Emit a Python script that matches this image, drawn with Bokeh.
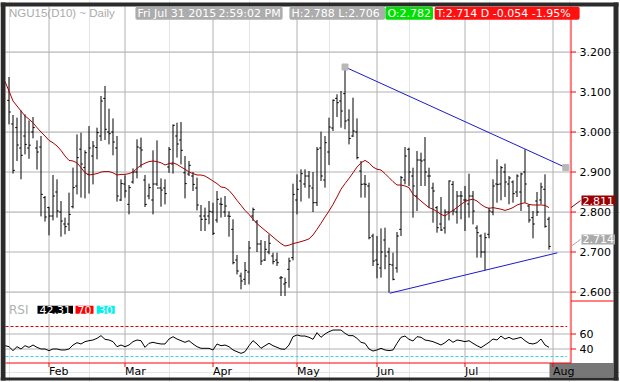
from bokeh.plotting import figure
from bokeh.models import Range1d, Label
from bokeh.core.properties import value
from bokeh.embed import file_html
from bokeh.resources import INLINE

# ---------------- data (NGU15 daily, Jan 16 - Jul 31 2015, trading-day index) -------------
highs = [3.1375, 3.0425, 3.036, 3.054, 3.044, 3.029, 3.0375, 2.979, 2.990, 2.840,
         2.8133, 2.8925, 2.8817, 2.8275, 2.786, 2.8483, 2.911, 2.994, 2.9983, 2.9542,
         3.015, 2.9775, 3.0108, 3.090, 3.115, 3.0583, 3.034, 2.990, 2.8817, 2.8917,
         2.8675, 2.909, 2.9817, 2.986, 2.8925, 2.871, 2.9542, 2.979, 2.884, 2.8817,
         2.9625, 3.019, 3.0233, 3.025, 2.940, 2.9275, 2.900, 2.886,
         2.8175, 2.811, 2.8275, 2.8233, 2.8525, 2.836, 2.840, 2.8017, 2.7817, 2.6925,
         2.6483, 2.675, 2.7275, 2.811, 2.780, 2.730, 2.7275, 2.744, 2.6983, 2.6983,
         2.640, 2.6358, 2.6858, 2.8708, 2.894, 2.9067, 2.9067, 2.9025, 2.900, 2.9625,
         3.0008, 2.990, 3.0358, 3.0817, 3.0942, 3.1025, 3.1625, 3.0567, 3.0858, 3.034,
         2.9275, 2.8925, 2.8733, 2.7458, 2.740, 2.759, 2.7608, 2.7108, 2.6983, 2.750,
         2.890, 2.9625, 2.9608, 2.9108, 2.9525, 2.9483, 2.9875, 2.9108, 2.8733, 2.815,
         2.8375, 2.8067, 2.879, 2.8775, 2.8525, 2.8525, 2.865, 2.8958, 2.8525, 2.7667,
         2.7442, 2.7483, 2.8108, 2.8817, 2.9317, 2.915, 2.9208, 2.890, 2.879, 2.8942,
         2.8983, 2.9567, 2.819, 2.8025, 2.850, 2.8733, 2.8942, 2.788]
lows = [3.019, 2.896, 2.9275, 2.8817, 2.944, 2.933, 2.984, 2.906, 2.789, 2.776,
        2.7417, 2.779, 2.786, 2.7383, 2.744, 2.7525, 2.809, 2.844, 2.836, 2.834,
        2.846, 2.869, 2.9317, 2.9775, 2.980, 2.969, 2.9417, 2.826, 2.8275, 2.836,
        2.794, 2.871, 2.884, 2.911, 2.8125, 2.8317, 2.794, 2.865, 2.8133, 2.819,
        2.898, 2.896, 2.936, 2.919, 2.834, 2.890, 2.8525, 2.804,
        2.7525, 2.7525, 2.7692, 2.7425, 2.7733, 2.786, 2.7875, 2.7383, 2.6692, 2.644,
        2.6067, 2.6175, 2.619, 2.7775, 2.700, 2.6675, 2.6775, 2.6942, 2.6692, 2.665,
        2.590, 2.590, 2.6108, 2.679, 2.794, 2.826, 2.8608, 2.834, 2.800, 2.815,
        2.8775, 2.8608, 2.9175, 3.0025, 3.0375, 3.0108, 3.0067, 2.969, 2.9875, 2.9317,
        2.836, 2.8358, 2.7317, 2.665, 2.6342, 2.636, 2.6567, 2.5983, 2.6292, 2.6483,
        2.740, 2.8692, 2.865, 2.7858, 2.8025, 2.865, 2.865, 2.8108, 2.7733, 2.7483,
        2.7525, 2.746, 2.779, 2.7917, 2.7708, 2.7817, 2.7525, 2.7858, 2.769, 2.6858,
        2.6858, 2.6542, 2.7342, 2.7917, 2.8233, 2.8292, 2.8375, 2.8192, 2.8233, 2.8375,
        2.8025, 2.8233, 2.7733, 2.7342, 2.790, 2.8192, 2.7608, 2.706]
opens = [3.079, 3.020, 3.011, 2.960, 2.990, 2.960, 3.000, 2.960, 2.9625, 2.836,
         2.811, 2.790, 2.850, 2.800, 2.770, 2.770, 2.8133, 2.865, 2.957, 2.911,
         2.894, 2.940, 2.961, 2.990, 3.084, 3.000, 3.000, 2.960, 2.830, 2.870,
         2.8192, 2.875, 2.900, 2.960, 2.880, 2.840, 2.830, 2.870, 2.860, 2.860,
         2.9125, 2.920, 2.990, 2.980, 2.898, 2.895, 2.890, 2.860,
         2.790, 2.790, 2.790, 2.800, 2.780, 2.820, 2.800, 2.790, 2.7567, 2.680,
         2.640, 2.6317, 2.650, 2.790, 2.775, 2.720, 2.680, 2.700, 2.690, 2.680,
         2.635, 2.620, 2.6567, 2.6858, 2.830, 2.8775, 2.870, 2.890, 2.860, 2.8233,
         2.960, 2.880, 2.950, 3.010, 3.084, 3.0775, 3.0958, 3.030, 2.990, 3.000,
         2.9025, 2.870, 2.865, 2.740, 2.680, 2.660, 2.730, 2.700, 2.6675, 2.660,
         2.7567, 2.880, 2.9567, 2.890, 2.840, 2.930, 2.930, 2.890, 2.860, 2.8108,
         2.770, 2.760, 2.800, 2.869, 2.800, 2.840, 2.830, 2.820, 2.840, 2.760,
         2.740, 2.700, 2.7442, 2.800, 2.870, 2.870, 2.900, 2.870, 2.875, 2.850,
         2.850, 2.900, 2.815, 2.7858, 2.8275, 2.830, 2.8567, 2.782]
closes = [3.050, 2.904, 2.9675, 2.9417, 2.969, 2.967, 3.011, 2.950, 2.844, 2.7875,
          2.790, 2.840, 2.8025, 2.7775, 2.7633, 2.794, 2.861, 2.936, 2.920, 2.9483,
          2.960, 2.965, 2.9983, 3.0775, 3.0067, 2.9958, 2.975, 2.840, 2.871, 2.8525,
          2.861, 2.900, 2.9625, 2.955, 2.819, 2.861, 2.870, 2.860, 2.855, 2.846,
          2.9567, 3.0167, 2.970, 2.9542, 2.871, 2.9167, 2.869, 2.8175,
          2.7817, 2.7817, 2.8017, 2.7467, 2.8317, 2.819, 2.815, 2.7892, 2.6733, 2.6525,
          2.6275, 2.654, 2.710, 2.806, 2.720, 2.6775, 2.7067, 2.7217, 2.676, 2.6733,
          2.6358, 2.6233, 2.6775, 2.844, 2.8567, 2.8958, 2.890, 2.865, 2.8233, 2.9567,
          2.890, 2.9733, 3.0125, 3.0792, 3.0733, 3.0525, 3.0275, 2.984, 3.0025, 2.936,
          2.8692, 2.8692, 2.7358, 2.6775, 2.6692, 2.700, 2.690, 2.669, 2.6317, 2.740,
          2.8858, 2.940, 2.900, 2.865, 2.930, 2.9275, 2.900, 2.890, 2.8525, 2.7608,
          2.755, 2.800, 2.8775, 2.8025, 2.840, 2.840, 2.830, 2.840, 2.8025, 2.7483,
          2.700, 2.7358, 2.8025, 2.865, 2.869, 2.9108, 2.875, 2.885, 2.8458, 2.890,
          2.895, 2.870, 2.780, 2.770, 2.800, 2.8625, 2.7642, 2.714]

# moving average (red) and RSI, read from index -1 to 135
ma_values = [3.126, 3.1025, 3.0775, 3.065, 3.0525, 3.04, 3.032, 3.023, 3.011, 3.0, 2.99,
             2.979, 2.973, 2.965, 2.954, 2.94, 2.929, 2.9275, 2.923, 2.911, 2.898,
             2.8925, 2.894, 2.896, 2.90, 2.901, 2.901, 2.898, 2.8925, 2.894, 2.894,
             2.896, 2.90, 2.909, 2.917, 2.922, 2.926, 2.9275, 2.926, 2.923, 2.9175,
             2.921, 2.923, 2.919, 2.9125, 2.907, 2.90, 2.896, 2.8925,
             2.8925, 2.89, 2.884, 2.8775, 2.871, 2.8625, 2.861, 2.854, 2.8425, 2.829,
             2.8167, 2.804, 2.794, 2.782, 2.771, 2.7625, 2.754, 2.746, 2.7375, 2.729,
             2.721, 2.715, 2.717, 2.721, 2.7233, 2.726, 2.729, 2.733, 2.7425, 2.7567,
             2.7717, 2.7875, 2.8025, 2.819, 2.8375, 2.857, 2.871, 2.884, 2.898, 2.9125,
             2.923, 2.929, 2.923, 2.9125, 2.907,
             2.905, 2.896, 2.886, 2.876, 2.8675, 2.8675, 2.865, 2.861, 2.844, 2.836,
             2.8275, 2.819, 2.811, 2.807, 2.801, 2.794, 2.79, 2.798, 2.804, 2.811,
             2.819, 2.826, 2.83, 2.832, 2.8275, 2.819, 2.8125, 2.809, 2.811, 2.809,
             2.807, 2.804, 2.807, 2.811, 2.8175, 2.821, 2.823, 2.819, 2.8175, 2.8175,
             2.8175, 2.8167, 2.811]
rsi_values = [44.4, 43.1, 37.8, 43.1, 40, 44.4, 42.2, 45.3, 42.2, 40, 40,
              37.8, 40, 40, 38.7, 38.7, 40, 45.3, 48.4, 46.7, 49.8,
              51.1, 52, 54.2, 57.8, 52.9, 52, 49.8, 43.1, 45.3, 43.1,
              45.3, 49.8, 52, 51.1, 42.2, 47.6, 48.9, 47.6, 46.7, 46.7,
              53.3, 56.4, 53.3, 51.1, 48.9, 51.1, 46.7, 43.1,
              40.9, 40.9, 40.9, 38.7, 46.7, 44.4, 45.3, 43.1, 38.7, 36.4,
              34.2, 36.4, 44.4, 51.1, 46.7, 40.9, 44.4, 47.6, 44.4, 42.2,
              40, 39.6, 45.3, 56.4, 58.7, 57.3, 57.3, 55.6, 52.9, 61.8,
              55.6, 60, 63.1, 65.3, 65.3, 65.3, 60.9, 57.8, 57.8, 54.2,
              48.9, 47.6, 40, 37.3, 38.7, 40.9, 38.7, 37.8, 38.7, 47.6,
              55.6, 57.3, 52.9, 50.7, 56.4, 55.6, 52, 51.1, 49.8, 47.6,
              45.3, 48.4, 52.9, 48.9, 52, 51.1, 49.8, 51.1, 47.6, 44.4,
              41.8, 45.3, 48.9, 53.3, 52, 57.3, 53.3, 55.6, 52.9, 54.2,
              55.6, 51.1, 47.6, 46.7, 48.4, 53.3, 45.3, 42.31]
ind_first_index = -1

# trend lines (index, price)
upper_trend_x = [84, 139.2]
upper_trend_y = [3.1625, 2.911]
lower_trend_x = [95.2, 137.1]
lower_trend_y = [2.597, 2.698]

month_index = [10, 29, 51, 72, 92, 114, 136]
month_labels = ["Feb", "Mar", "Apr", "May", "Jun", "Jul", "Aug"]
price_ticks = [2.6, 2.7, 2.8, 2.9, 3.0, 3.1, 3.2]
rsi_ticks = [40, 60]
rsi_bands = [70, 30]

header_symbol = "NGU15(D10) ~ Daily"
header_boxes = ["Fri Jul 31 2015", "2:59:02 PM", "H:2.788  L:2.706", "O:2.782",
                "T:2.714 D  -0.054  -1.95%"]
header_colors = ["#acacac", "#acacac", "#acacac", "#00e000", "#ff1010"]
header_x = [31.6, 51.9, 70.1, 94.1, 106.4]

# ---------------- layout ----------------
FONT = "DejaVu Sans"
W, H = 620, 382
PX_PER_BAR, PX_PER_PRICE, PX_PER_RSI = 4.0, 400.0, 0.75
X_START = -2.125                       # index at the canvas' left edge
Y_TOP = 3.32875                        # price at the canvas' top edge
R_TOP = 504.667                        # RSI value at the canvas' top edge
X_END = X_START + W / PX_PER_BAR
Y_BOTTOM = Y_TOP - H / PX_PER_PRICE
R_BOTTOM = R_TOP - H / PX_PER_RSI


def xpx(px):   # horizontal pixel -> index
    return X_START + px / PX_PER_BAR


def ypx(py):   # vertical pixel -> price
    return Y_TOP - py / PX_PER_PRICE


IN_L, IN_R, IN_T, IN_B = xpx(5), xpx(613), ypx(6), ypx(377)   # inside of the dark frame
AXIS_X = xpx(570.5)                    # right price axis line
XAXIS_Y = ypx(362.5)                   # time axis line
SEP_Y = ypx(300.5)                     # price / RSI split in the axis column
LABEL_X = xpx(579)
VAL_X = xpx(581)
GRID = "#b2b2b2"
RED = "#ff0000"

p = figure(width=W, height=H, output_backend="svg", toolbar_location=None,
           x_range=Range1d(X_START, X_END), y_range=Range1d(Y_BOTTOM, Y_TOP),
           x_axis_location=None, y_axis_location=None, min_border=0)
p.min_border_left = p.min_border_right = p.min_border_top = p.min_border_bottom = 0
p.extra_y_ranges = {"rsi": Range1d(R_BOTTOM, R_TOP)}
p.outline_line_color = None
p.background_fill_color = "white"
p.border_fill_color = "white"

# grid
n_pt = len(price_ticks)
p.segment(x0=[IN_L] * n_pt, x1=[AXIS_X] * n_pt, y0=price_ticks, y1=price_ticks,
          line_color=GRID, line_width=1)
p.segment(x0=[IN_L] * len(rsi_ticks), x1=[AXIS_X] * len(rsi_ticks), y0=rsi_ticks,
          y1=rsi_ticks, y_range_name="rsi", line_color=GRID, line_width=1)
p.segment(x0=month_index, x1=month_index, y0=[XAXIS_Y] * len(month_index),
          y1=[IN_T] * len(month_index), line_color=GRID, line_width=1)

# RSI 70 / 30 levels
p.segment(x0=[IN_L], x1=[xpx(566.7)], y0=[rsi_bands[0]], y1=[rsi_bands[0]], y_range_name="rsi",
          line_color="#e00000", line_dash="3 2", line_width=1)
p.segment(x0=[IN_L], x1=[xpx(566.7)], y0=[rsi_bands[1]], y1=[rsi_bands[1]], y_range_name="rsi",
          line_color="#33d6e6", line_dash="3 2", line_width=1)

# "current date" box in the time axis
p.quad(left=[month_index[-1] - 0.875], right=[IN_R], top=[XAXIS_Y], bottom=[IN_B],
       fill_color="#777777", line_color=None)

# OHLC bars
idx = list(range(len(highs)))
tick = 0.45
p.segment(x0=idx, y0=lows, x1=idx, y1=highs, line_color="black", line_width=1)
p.segment(x0=[i - tick for i in idx], y0=opens, x1=idx, y1=opens, line_color="black", line_width=1)
p.segment(x0=idx, y0=closes, x1=[i + tick for i in idx], y1=closes, line_color="black", line_width=1)

ind_x = list(range(ind_first_index, ind_first_index + len(ma_values)))
p.line(ind_x, ma_values, line_color="#a80000", line_width=1)

# trend lines
p.line(upper_trend_x, upper_trend_y, line_color="#1a1ad0", line_width=1)
p.line(lower_trend_x, lower_trend_y, line_color="#1a1ad0", line_width=1)
p.scatter(upper_trend_x, upper_trend_y, marker="square", size=6,
          fill_color="#b8b8b8", line_color="#b8b8b8")

# RSI line
rsi_x = list(range(ind_first_index, ind_first_index + len(rsi_values)))
p.line(rsi_x, rsi_values, y_range_name="rsi", line_color="black", line_width=1)

# axes (red), ticks and tick labels
p.segment(x0=[AXIS_X], x1=[AXIS_X], y0=[XAXIS_Y], y1=[IN_T], line_color=RED, line_width=1)
p.segment(x0=[IN_L], x1=[AXIS_X], y0=[XAXIS_Y], y1=[XAXIS_Y], line_color=RED, line_width=1)
p.segment(x0=[AXIS_X], x1=[IN_R], y0=[SEP_Y], y1=[SEP_Y], line_color=RED, line_width=1)
p.segment(x0=[AXIS_X] * n_pt, x1=[xpx(575.5)] * n_pt, y0=price_ticks, y1=price_ticks,
          line_color=RED, line_width=1)
p.segment(x0=[AXIS_X] * len(rsi_ticks), x1=[xpx(575.5)] * len(rsi_ticks), y0=rsi_ticks,
          y1=rsi_ticks, y_range_name="rsi", line_color=RED, line_width=1)
p.segment(x0=month_index, x1=month_index, y0=[XAXIS_Y] * len(month_index),
          y1=[ypx(366.5)] * len(month_index), line_color=RED, line_width=1)

p.text(x=[LABEL_X] * n_pt, y=price_ticks, text=[f"{t:.3f}" for t in price_ticks],
       text_font=value(FONT), text_font_size="11px", text_color="black",
       text_baseline="alphabetic", text_align="left")
p.text(x=[LABEL_X] * len(rsi_ticks), y=rsi_ticks, text=[str(t) for t in rsi_ticks],
       y_range_name="rsi", text_font=value(FONT), text_font_size="11px", text_color="black",
       text_baseline="alphabetic", text_align="left")
p.text(x=month_index, y=[ypx(364)] * len(month_index), text=month_labels,
       text_font=value(FONT), text_font_size="11px", text_color="black",
       text_baseline="top", text_align="left")

# last-value connectors
for val, bg in [(ma_values[-1], "#9a0000"), (closes[-1], "#aaaaaa")]:
    p.segment(x0=[AXIS_X], y0=[val], x1=[xpx(580)], y1=[val + 0.0175],
              line_color=bg, line_width=1)

# dark outer frame
p.quad(left=[xpx(0), xpx(0), IN_R, xpx(0)], right=[IN_L, xpx(618), xpx(618), xpx(618)],
       top=[ypx(2), ypx(2), ypx(2), IN_B], bottom=[ypx(380), IN_T, ypx(380), ypx(380)],
       fill_color="#2b2b2b", line_color=None)

# last-value boxes
for val, bg in [(ma_values[-1], "#9a0000"), (closes[-1], "#aaaaaa")]:
    p.add_layout(Label(x=VAL_X, y=val + 0.0175, text=f"{val:.3f}", text_font=FONT,
                       text_font_size="11px", text_color="white", text_baseline="middle",
                       background_fill_color=bg, padding=1))

# header strip
hy = ypx(12.75)
p.add_layout(Label(x=0, y=hy, text=header_symbol, text_font="Liberation Sans",
                   text_font_size="11.5px", text_color="#ababab", text_baseline="middle"))
for x, t, bg in zip(header_x, header_boxes, header_colors):
    p.add_layout(Label(x=x, y=hy, text=t, text_font=FONT, text_font_size="11px",
                       text_color="white", text_baseline="middle",
                       background_fill_color=bg, padding=dict(left=2, right=2, top=0, bottom=0),
                       border_radius=2))

# RSI header
ry = 92.4
p.add_layout(Label(x=0, y=ry, y_range_name="rsi", text="RSI", text_font=FONT,
                   text_font_size="12px", text_color="#b0b0b0", text_baseline="middle"))
for x, t, bg in [(7.125, f"{rsi_values[-1]:.2f}", "black"), (16.625, str(rsi_bands[0]), "red"),
                 (21.95, str(rsi_bands[1]), "#00f0f0")]:
    p.add_layout(Label(x=x, y=ry, y_range_name="rsi", text=t, text_font=FONT,
                       text_font_size="11px", text_color="white", text_baseline="middle",
                       background_fill_color=bg, padding=dict(left=2, right=2, top=0, bottom=0)))

open("out.html", "w").write(file_html(p, INLINE))
